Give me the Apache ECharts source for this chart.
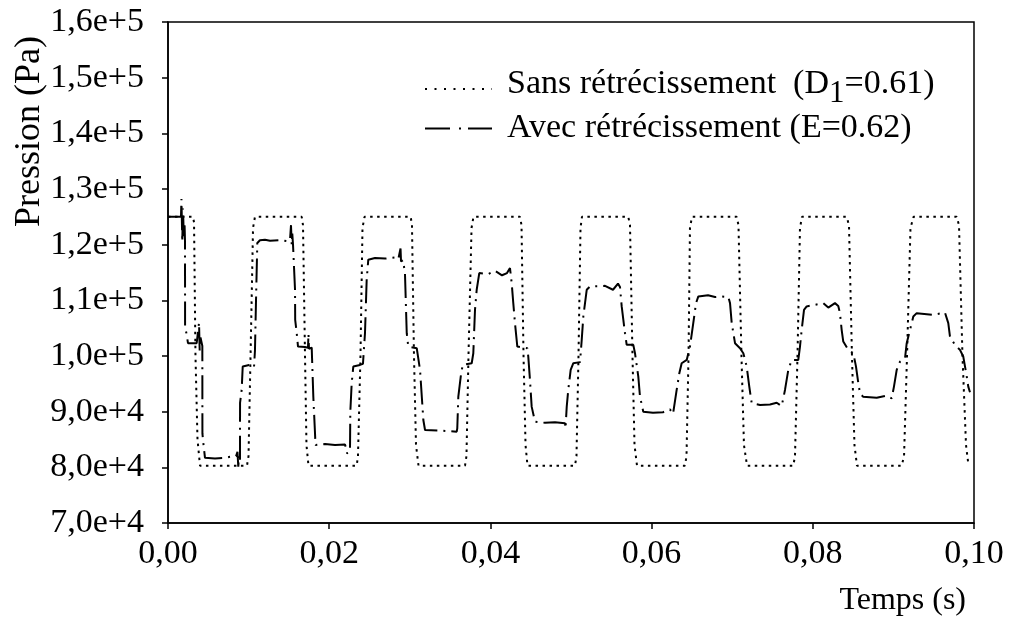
<!DOCTYPE html>
<html>
<head>
<meta charset="utf-8">
<script src="https://cdn.jsdelivr.net/npm/echarts@6/dist/echarts.min.js"></script>
<style>html,body{margin:0;padding:0;background:#fff}#c{width:1013px;height:634px}</style>
</head>
<body>
<div id="c"></div>
<script>
// Time axis ticks (s) and pressure ticks (Pa)
var xTicks = ['0,00', '0,02', '0,04', '0,06', '0,08', '0,10'];
var yTicks = ['7,0e+4', '8,0e+4', '9,0e+4', '1,0e+5', '1,1e+5', '1,2e+5', '1,3e+5', '1,4e+5', '1,5e+5', '1,6e+5'];
var seriesNames = ['Sans rétrécissement  (D1=0.61)', 'Avec rétrécissement (E=0.62)'];

// Sans rétrécissement: [t (s), p (kPa)]
var sansData = [
  [0, 125.0], [0.00310, 125.0], [0.00323, 124.0], [0.00341, 100.0], [0.00366, 85.0], [0.00397, 80.3],
  [0.00980, 80.3], [0.00999, 82.0], [0.01024, 100.0], [0.01055, 123.0], [0.01079, 125.0],
  [0.01659, 125.0], [0.01675, 123.5], [0.01700, 100.0], [0.01718, 84.0], [0.01743, 80.3],
  [0.02341, 80.3], [0.02357, 82.0], [0.02388, 100.0], [0.02413, 123.0], [0.02438, 125.0],
  [0.03011, 125.0], [0.03027, 123.5], [0.03052, 100.0], [0.03077, 84.0], [0.03108, 80.3],
  [0.03685, 80.3], [0.03703, 82.0], [0.03728, 100.0], [0.03766, 123.0], [0.03790, 125.0],
  [0.04367, 125.0], [0.04386, 123.5], [0.04411, 100.0], [0.04436, 84.0], [0.04460, 80.3],
  [0.05050, 80.3], [0.05068, 82.0], [0.05093, 100.0], [0.05118, 123.0], [0.05136, 125.0],
  [0.05711, 125.0], [0.05732, 123.5], [0.05763, 100.0], [0.05788, 84.0], [0.05819, 80.3],
  [0.06414, 80.3], [0.06433, 82.0], [0.06458, 100.0], [0.06476, 123.0], [0.06501, 125.0],
  [0.07056, 125.0], [0.07078, 123.5], [0.07115, 100.0], [0.07146, 84.0], [0.07184, 80.3],
  [0.07758, 80.3], [0.07779, 82.0], [0.07810, 100.0], [0.07841, 123.0], [0.07866, 125.0],
  [0.08421, 125.0], [0.08449, 123.5], [0.08486, 100.0], [0.08517, 84.0], [0.08548, 80.3],
  [0.09103, 80.3], [0.09132, 82.0], [0.09169, 100.0], [0.09212, 123.0], [0.09250, 125.0],
  [0.09785, 125.0], [0.09814, 123.5], [0.09857, 100.0], [0.09901, 84.0], [0.09932, 80.3]
];

// Avec rétrécissement: [t (s), p (kPa)]
var avecData = [
  [0, 125.0], [0.00161, 125.0], [0.00167, 128.2], [0.00177, 120.5], [0.00186, 126.5], [0.00196, 121.5],
  [0.00205, 124.0], [0.00211, 120.5], [0.00212, 105.3], [0.00232, 103.8], [0.00248, 102.3],
  [0.00356, 102.3], [0.00385, 106.0], [0.00393, 101.0], [0.00401, 103.5], [0.00426, 101.8],
  [0.00427, 86.1], [0.00438, 84.4], [0.00459, 81.7], [0.00583, 81.6], [0.00707, 81.7],
  [0.00769, 81.9], [0.00844, 82.0], [0.00862, 82.8], [0.00872, 80.1], [0.00881, 82.0],
  [0.00893, 81.0], [0.00894, 91.6], [0.00914, 93.9], [0.00927, 98.1], [0.01017, 98.4],
  [0.01067, 98.0], [0.01079, 101.0], [0.01092, 110.0], [0.01108, 120.3], [0.01141, 120.8],
  [0.01203, 120.9], [0.01266, 120.7], [0.01390, 120.8], [0.01489, 120.6], [0.01514, 120.9],
  [0.01526, 123.5], [0.01535, 120.0], [0.01542, 122.0], [0.01551, 120.0], [0.01576, 111.9],
  [0.01578, 106.5], [0.01597, 104.1], [0.01613, 101.7], [0.01700, 101.6], [0.01737, 101.5],
  [0.01743, 104.0], [0.01749, 101.3], [0.01783, 101.5], [0.01803, 92.7], [0.01824, 86.1],
  [0.01830, 84.0], [0.01948, 84.2], [0.02072, 84.0], [0.02196, 84.1], [0.02217, 83.1],
  [0.02221, 82.5], [0.02258, 83.0], [0.02262, 90.0], [0.02279, 95.1], [0.02299, 98.1],
  [0.02382, 98.4], [0.02419, 98.6], [0.02444, 104.1], [0.02465, 113.7], [0.02485, 117.3],
  [0.02568, 117.6], [0.02692, 117.5], [0.02816, 117.7], [0.02857, 117.4], [0.02885, 119.3],
  [0.02891, 117.0], [0.02916, 117.2], [0.02940, 114.9], [0.02962, 104.1], [0.02981, 101.7],
  [0.03086, 101.4], [0.03127, 97.5], [0.03168, 88.5], [0.03189, 86.7], [0.03375, 86.6],
  [0.03499, 86.5], [0.03582, 86.4], [0.03589, 87.0], [0.03602, 92.7], [0.03632, 96.3],
  [0.03656, 98.4], [0.03768, 98.7], [0.03788, 100.5], [0.03809, 108.3], [0.03830, 111.9],
  [0.03862, 114.9], [0.03970, 114.7], [0.04057, 115.3], [0.04144, 114.5], [0.04206, 114.9],
  [0.04243, 115.8], [0.04264, 113.1], [0.04284, 109.5], [0.04305, 105.9], [0.04334, 101.7],
  [0.04458, 101.4], [0.04470, 99.9], [0.04491, 95.7], [0.04512, 90.9], [0.04553, 88.2],
  [0.04677, 88.0], [0.04801, 88.1], [0.04926, 87.9], [0.04932, 87.0], [0.04947, 90.9],
  [0.04966, 93.9], [0.04996, 97.5], [0.05029, 98.7], [0.05112, 98.9], [0.05133, 102.9],
  [0.05153, 107.1], [0.05195, 111.9], [0.05236, 112.5], [0.05422, 112.6], [0.05521, 111.9],
  [0.05583, 113.0], [0.05608, 112.4], [0.05629, 108.9], [0.05670, 104.1], [0.05691, 102.0],
  [0.05773, 102.0], [0.05794, 100.5], [0.05835, 96.3], [0.05856, 92.7], [0.05897, 90.0],
  [0.06017, 89.8], [0.06141, 89.9], [0.06228, 90.4], [0.06266, 89.6], [0.06290, 89.8],
  [0.06311, 93.9], [0.06344, 96.9], [0.06373, 98.7], [0.06436, 99.3], [0.06476, 101.7],
  [0.06517, 105.9], [0.06551, 109.5], [0.06580, 110.7], [0.06700, 110.9], [0.06787, 110.6],
  [0.06873, 110.7], [0.06952, 110.6], [0.06973, 109.5], [0.06994, 105.9], [0.07035, 102.3],
  [0.07097, 101.4], [0.07138, 100.5], [0.07180, 98.1], [0.07212, 94.5], [0.07242, 91.5],
  [0.07345, 91.2], [0.07469, 91.3], [0.07552, 91.6], [0.07614, 91.0], [0.07655, 93.9],
  [0.07696, 97.5], [0.07738, 99.3], [0.07820, 99.3], [0.07841, 101.7], [0.07862, 104.7],
  [0.07891, 108.3], [0.07924, 108.9], [0.08027, 109.2], [0.08130, 109.5], [0.08192, 108.7],
  [0.08275, 109.5], [0.08316, 109.0], [0.08337, 107.7], [0.08358, 104.7], [0.08378, 102.6],
  [0.08440, 101.1], [0.08503, 100.5], [0.08536, 98.1], [0.08565, 95.1], [0.08586, 93.3],
  [0.08623, 92.7], [0.08793, 92.5], [0.08917, 92.9], [0.08979, 92.4], [0.08999, 92.6],
  [0.09007, 94.5], [0.09041, 97.5], [0.09082, 99.0], [0.09144, 99.6], [0.09165, 102.3],
  [0.09206, 104.7], [0.09247, 107.1], [0.09289, 107.7], [0.09495, 107.4], [0.09640, 107.8],
  [0.09661, 107.5], [0.09681, 105.9], [0.09702, 103.5], [0.09764, 102.0], [0.09826, 101.1],
  [0.09867, 99.9], [0.09910, 96.3], [0.09929, 94.5], [0.09950, 93.5]
];

function toPa(arr) { return arr.map(function (p) { return [p[0], p[1] * 1000]; }); }

var FONT = 'Liberation Serif';
var chart = echarts.init(document.getElementById('c'), null, { renderer: 'canvas' });
chart.setOption({
  animation: false,
  backgroundColor: '#fff',
  color: ['#000', '#000'],
  grid: { left: 168, right: 39, top: 22, bottom: 111, show: true, borderColor: '#000', borderWidth: 1.5, containLabel: false },
  xAxis: {
    type: 'value', min: 0, max: 0.1, interval: 0.02,
    axisLine: { show: true, lineStyle: { color: '#000', width: 1.5 } },
    axisTick: { show: true, inside: false, length: 6, lineStyle: { color: '#000', width: 1.5 } },
    axisLabel: {
      color: '#000', fontFamily: FONT, fontSize: 34, margin: 14,
      formatter: function (v) { return xTicks[Math.round(v / 0.02)]; }
    },
    splitLine: { show: false }
  },
  yAxis: {
    type: 'value', min: 70000, max: 160000, interval: 10000,
    axisLine: { show: true, lineStyle: { color: '#000', width: 1.5 } },
    axisTick: { show: true, inside: false, length: 6, lineStyle: { color: '#000', width: 1.5 } },
    axisLabel: {
      color: '#000', fontFamily: FONT, fontSize: 34, margin: 24,
      formatter: function (v) { return yTicks[Math.round((v - 70000) / 10000)]; }
    },
    splitLine: { show: false }
  },
  legend: {
    orient: 'vertical', left: 419, top: 62, itemGap: 2, itemWidth: 67, itemHeight: 14,
    itemStyle: { opacity: 0 },
    data: [
      { name: seriesNames[0], lineStyle: { color: '#000', width: 2, type: [2, 7.5] } },
      { name: seriesNames[1], lineStyle: { color: '#000', width: 2, type: [25, 9, 2, 7] } }
    ],
    formatter: function (name) {
      if (name === seriesNames[0]) return '{n|Sans rétrécissement  (D}{s|1}{n|=0.61)}';
      return '{n|Avec rétrécissement (E=0.62)}';
    },
    textStyle: {
      color: '#000', fontFamily: FONT, fontSize: 34, padding: [0, 0, 0, 10],
      rich: {
        n: { fontFamily: FONT, fontSize: 34, color: '#000', height: 38, verticalAlign: 'top', padding: [0, 0, 0, 0] },
        s: { fontFamily: FONT, fontSize: 31, color: '#000', height: 38, verticalAlign: 'top', padding: [10, 0, 0, 0] }
      }
    }
  },
  graphic: [
    { type: 'text', left: 12, top: 36, style: { text: 'Pression (Pa)', font: '36px "Liberation Serif"', fill: '#000' }, rotation: Math.PI / 2, originX: 0, originY: 0 },
    { type: 'text', right: 47, top: 585, style: { text: 'Temps (s)', font: '32px "Liberation Serif"', fill: '#000' } }
  ],
  series: [
    {
      name: seriesNames[0], type: 'line', data: toPa(sansData), showSymbol: false, symbol: 'none',
      itemStyle: { color: '#000' },
      lineStyle: { color: '#000', width: 2, type: [2.5, 4.5] }
    },
    {
      name: seriesNames[1], type: 'line', data: toPa(avecData), showSymbol: false, symbol: 'none',
      itemStyle: { color: '#000' },
      lineStyle: { color: '#000', width: 2, type: [24, 6, 2, 6] }
    }
  ]
});
</script>
</body>
</html>
